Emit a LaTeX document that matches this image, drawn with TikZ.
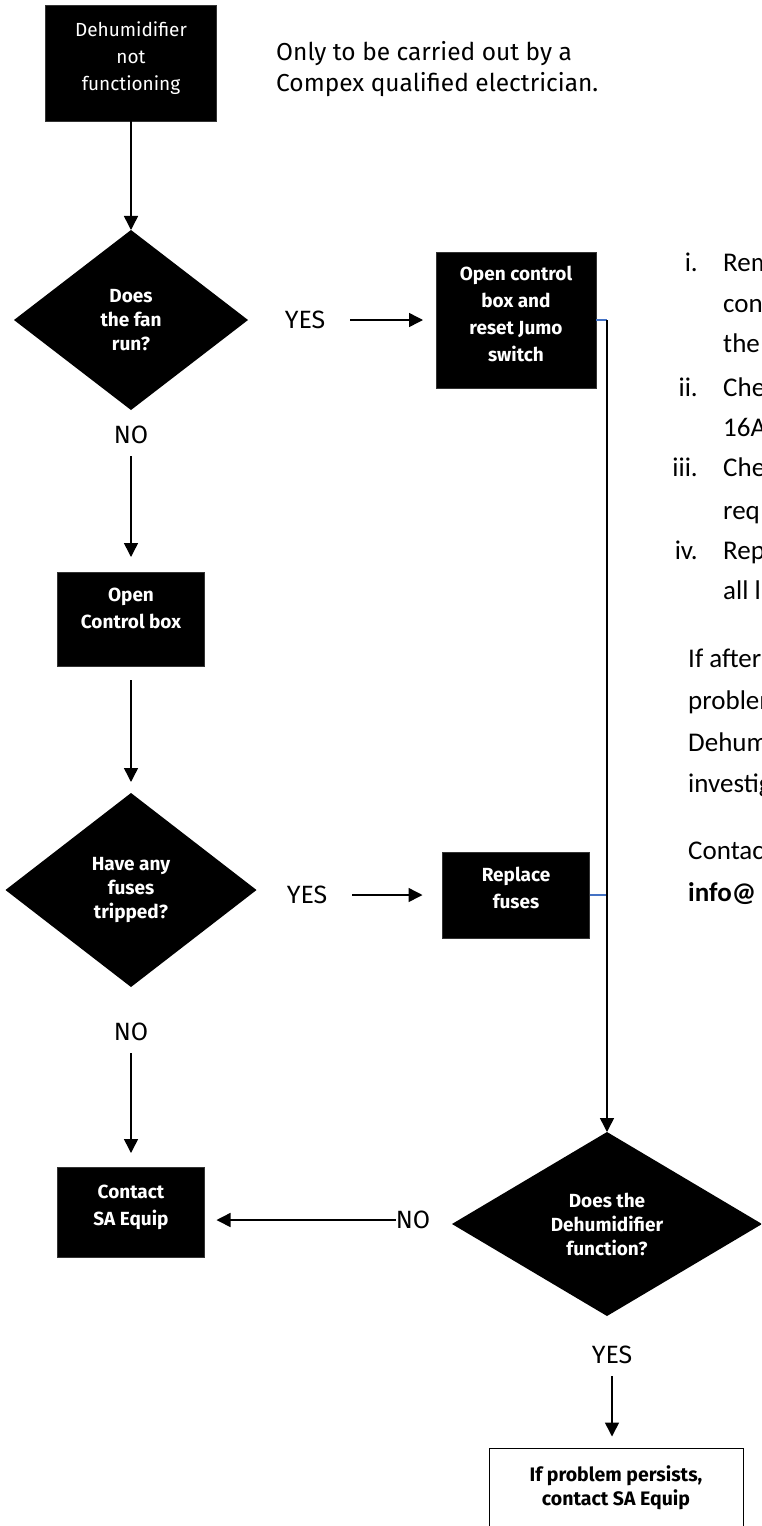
\documentclass[tikz,border=0pt]{standalone}
\usepackage{fontspec}
\setmainfont{Fira Sans}
\newfontfamily\calibri{Carlito}
\usetikzlibrary{shapes.geometric,arrows.meta}

\definecolor{linkblue}{HTML}{4472C4}
\newcommand\liftup[1][-13pt]{\\[#1]\mbox{}}
\tikzset{
	blackbox/.style={draw=black!80,line width=0.8pt,fill=black,text=white,align=center,inner sep=0,outer sep=0,font=\bfseries\fontsize{19}{27}\selectfont},
	decision/.style={diamond,aspect=1.3,fill=black,text=white,align=center,inner sep=0,outer sep=0,font=\bfseries\fontsize{19}{24}\selectfont},
	answer/.style={inner sep=0,font=\fontsize{25}{25}\selectfont},
	sidetext/.style={anchor=base west,inner sep=0,font=\calibri\fontsize{27}{27}\selectfont},
	arr/.style={line width=1.5pt,-{Triangle[length=14pt,width=14pt]}},
}

\begin{document}
\begin{tikzpicture}[x=1pt,y=-1pt]
	\useasboundingbox (0,0) rectangle (761,1526);
	\clip (0,0) rectangle (761,1526);
	% shapes
	\node[blackbox,font=\fontsize{19}{27}\selectfont,minimum width=171,minimum height=116] (1) at (131,63) {Dehumidifier\\not\\functioning\liftup};
	\node[decision,minimum width=234,minimum height=180] (2) at (131,320) {Does\\the fan\\run?};
	\node[blackbox,minimum width=160,minimum height=136] (3) at (516,320) {Open control\\box and\\reset Jumo\\switch\liftup[-15pt]};
	\node[blackbox,minimum width=147,minimum height=94] (4) at (131,619) {Open\\Control box\liftup[-5pt]};
	\node[decision,minimum width=251,minimum height=194] (5) at (131,890) {Have any\\fuses\\tripped?};
	\node[blackbox,minimum width=147,minimum height=86] (6) at (516,895) {Replace\\fuses\liftup};
	\node[blackbox,minimum width=147,minimum height=90] (7) at (131,1212) {Contact\\SA Equip\liftup};
	\node[decision,minimum width=310,minimum height=184] (8) at (607,1224) {Does the\\Dehumidifier\\function?};
	\node[draw,line width=1pt,fill=white,align=center,inner sep=0,minimum width=254,minimum height=80,font=\bfseries\fontsize{19.5}{24}\selectfont] (9) at (616,1488) {If problem persists,\\contact SA Equip};
	% yes / no
	\node[answer] (10) at (305,320) {YES};
	\node[answer] (11) at (131,435) {NO};
	\node[answer] (12) at (307,895) {YES};
	\node[answer] (13) at (131,1032) {NO};
	\node[answer] (14) at (413,1220) {NO};
	\node[answer] (15) at (612,1355) {YES};
	\coordinate (c1) at (607,320);
	\coordinate (c2) at (607,895);
	% connectors
	\draw[arr] (1) -- (2);
	\draw[arr,shorten <=25,shorten >=13] (10) -- (3);
	\draw[arr,shorten <=12,shorten >=15] (11) -- (4);
	\draw[arr,shorten <=14,shorten >=11] (4) -- (5);
	\draw[arr,shorten <=25,shorten >=20] (12) -- (6);
	\draw[arr,shorten <=12,shorten >=14] (13) -- (7);
	\draw[arr,shorten >=12] (14) -- (14 -| 7.east);
	\draw[arr,shorten <=12,shorten >=11] (15) -- (15 |- 9.north);
	\draw[linkblue,line width=1.5pt] (3) -- (c1);
	\draw[linkblue,line width=1.5pt] (6) -- (c2);
	\draw[arr] (c1) -- (8);
	% notes
	\node[anchor=north west,align=left,inner sep=0,font=\fontsize{24.5}{31}\selectfont] (16) at (276,41) {Only to be carried out by a\\Compex qualified electrician.};
	\foreach \y/\n in {271/i.,396/ii.,476/iii.,559/iv.}
		\node[sidetext,anchor=base east] (n\y) at (698,\y) {\n};
	\foreach \y/\t in {271/Rem,312/con,352/the,396/Che,436/16A,476/Che,519/req,559/Rep,599/all l}
		\node[sidetext] (l\y) at (723,\y) {\t};
	\foreach \y/\t in {667/If after,709/problem,751/Dehum,792/investig,859/Contact,901/\textbf{info@}}
		\node[sidetext] (p\y) at (688,\y) {\t};
\end{tikzpicture}
\end{document}
